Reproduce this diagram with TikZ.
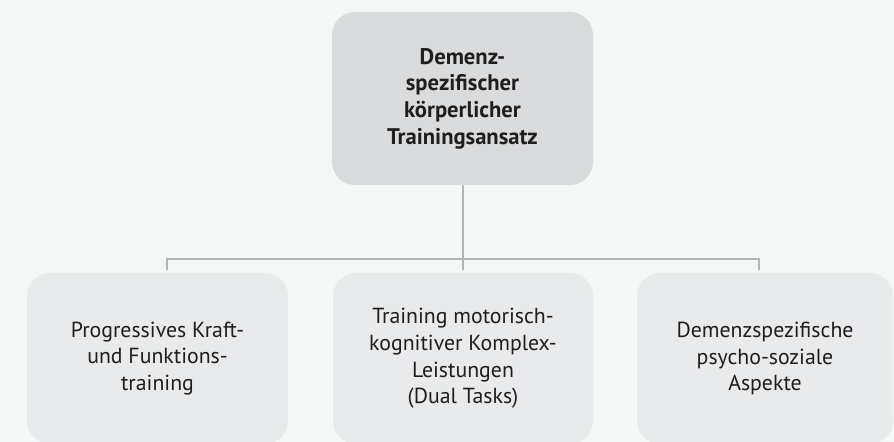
\documentclass[tikz,border=0pt]{standalone}
\usepackage{fontspec}
\setmainfont{PT Sans}
\usepackage{tikz}
\definecolor{cback}{RGB}{245,246,246}
\definecolor{chead}{RGB}{218,219,220}
\definecolor{cpart}{RGB}{233,234,235}
\definecolor{cline}{RGB}{180,181,181}
\definecolor{ctext}{RGB}{30,30,30}

\tikzset{
  box/.style={rounded corners=11.5pt, inner sep=0pt, align=center,
    text=ctext, font=\fontsize{10.9}{13.3}\selectfont},
  headbox/.style={box, fill=chead, minimum width=130.5pt,
    minimum height=86.5pt, font=\bfseries\fontsize{11.3}{13.3}\selectfont},
  partbox/.style={box, fill=cpart, minimum height=85.5pt},
  link/.style={draw=cline, line width=1pt}
}

\begin{document}
\begin{tikzpicture}[x=0.5pt, y=-0.5pt]
\fill[cback] (0,0) rectangle (894,442);
\useasboundingbox (0,0) rectangle (894,442);
\clip (0,0) rectangle (894,442);
\node[headbox] (top) at (462.5,98.5)
  {Demenz-\\spezifischer\\körperlicher\\Trainingsansatz};
\node[partbox, minimum width=130.5pt] (left) at (157.5,358.5)
  {Progressives Kraft-\\und Funktions-\\training};
\node[partbox, minimum width=130pt] (mid) at (463,358.5)
  {Training motorisch-\\kognitiver Komplex-\\Leistungen\\(Dual Tasks)};
\node[partbox, minimum width=128pt] (right) at (765,358.5)
  {Demenzspezifische\\psycho-soziale\\Aspekte};
\coordinate (barL) at (167,259);
\coordinate (barR) at (759,259);
\draw[link, shorten >=1.5pt] (top.south) -- (top.south |- mid.north);
\draw[link, shorten <=1.5pt, shorten >=1.5pt]
  (barL |- left.north) -- (barL) -- (barR) -- (barR |- right.north);
\end{tikzpicture}
\end{document}
